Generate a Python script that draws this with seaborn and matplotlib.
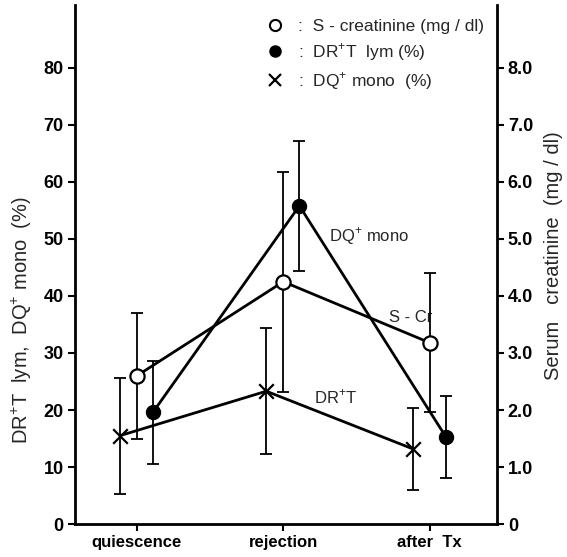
import matplotlib
matplotlib.use("Agg")
import matplotlib.pyplot as plt
import numpy as np
import pandas as pd
import seaborn as sns
from matplotlib.lines import Line2D

phases = ["quiescence", "rejection", "after  Tx"]

# serum creatinine (mg/dl), right axis
scr_mean = [2.6, 4.25, 3.18]
scr_sd = [1.1, 1.93, 1.22]

# filled circles (%), left axis
dr_mean = [19.6, 55.8, 15.3]
dr_sd = [9.0, 11.4, 7.2]

# crosses (%), left axis
dq_mean = [15.5, 23.3, 13.2]
dq_sd = [10.2, 11.0, 7.2]

sns.set_style("ticks")
plt.rcParams["font.family"] = ["Liberation Sans", "DejaVu Sans"]
plt.rcParams["mathtext.fontset"] = "custom"
plt.rcParams["mathtext.rm"] = "Liberation Sans"

pos = np.arange(len(phases))
df = pd.DataFrame({
    "phase": phases,
    "x_scr": pos + 0.0,
    "x_dr": pos + 0.11,
    "x_dq": pos - 0.116,
    "scr": scr_mean,
    "dr": dr_mean,
    "dq": dq_mean,
})

fig = plt.figure(figsize=(5.67, 5.57), dpi=100)
ax = fig.add_axes([0.132, 0.059, 0.744, 0.932])
ax2 = ax.twinx()

line_kw = dict(color="black", linewidth=2.0, sort=False, legend=False)
err_kw = dict(fmt="none", ecolor="black", elinewidth=1.3, capsize=4,
              capthick=1.3, zorder=2)

# crosses
ax.errorbar(df["x_dq"], dq_mean, yerr=dq_sd, **err_kw)
sns.lineplot(data=df, x="x_dq", y="dq", ax=ax, zorder=3, **line_kw)
sns.scatterplot(data=df, x="x_dq", y="dq", ax=ax, marker="x", s=110,
                color="black", linewidth=1.6, zorder=4, legend=False)

# filled circles
ax.errorbar(df["x_dr"], dr_mean, yerr=dr_sd, **err_kw)
sns.lineplot(data=df, x="x_dr", y="dr", ax=ax, zorder=3, **line_kw)
sns.scatterplot(data=df, x="x_dr", y="dr", ax=ax, marker="o", s=105,
                color="black", edgecolor="black", zorder=4, legend=False)

# open circles (right axis)
ax2.errorbar(df["x_scr"], scr_mean, yerr=scr_sd, **err_kw)
sns.lineplot(data=df, x="x_scr", y="scr", ax=ax2, zorder=3, **line_kw)
sns.scatterplot(data=df, x="x_scr", y="scr", ax=ax2, marker="o", s=105,
                color="white", edgecolor="black", linewidth=1.6, zorder=4,
                legend=False)

ax.set_xlim(-0.423, 2.457)
ax.set_ylim(0, 91)
ax2.set_ylim(0, 9.1)

ax.set_xticks(pos)
ax.set_xticklabels(phases, fontsize=12, fontweight="bold")
ax.set_yticks(np.arange(0, 81, 10))
ax.set_yticklabels([str(v) for v in range(0, 81, 10)], fontsize=13, fontweight="bold")
ax2.set_yticks(np.arange(0, 8.1, 1))
ax2.set_yticklabels(["0"] + [f"{v:.1f}" for v in np.arange(1, 8.1, 1)],
                    fontsize=13, fontweight="bold")

ax.set_xlabel("")
ax.set_ylabel(r"DR$^{+}$T  lym,  DQ$^{+}$ mono  (%)", fontsize=14.5)
ax.yaxis.set_label_coords(-0.097, 0.393)
ax2.set_xlabel("")
ax2.set_ylabel("Serum   creatinine  (mg / dl)", fontsize=14.5, rotation=90)
ax2.yaxis.set_label_coords(1.112, 0.518)

for a in (ax, ax2):
    a.spines["top"].set_visible(False)
    for s in ("left", "right", "bottom"):
        a.spines[s].set_linewidth(2.0)
        a.spines[s].set_color("black")
    a.tick_params(direction="out", length=5, width=1.5, colors="black", pad=3)
ax.spines["right"].set_visible(False)
ax2.spines["left"].set_visible(False)
ax2.spines["bottom"].set_visible(False)

ax.text(1.31, 50.4, r"DQ$^{+}$ mono", fontsize=12, ha="left", va="center")
ax.text(1.72, 36.3, "S - Cr", fontsize=12, ha="left", va="center")
ax.text(1.21, 22.3, r"DR$^{+}$T", fontsize=12, ha="left", va="center")

handles = [
    Line2D([], [], marker="o", linestyle="none", markersize=8,
           markerfacecolor="white", markeredgecolor="black", markeredgewidth=1.5),
    Line2D([], [], marker="o", linestyle="none", markersize=8,
           markerfacecolor="black", markeredgecolor="black"),
    Line2D([], [], marker="x", linestyle="none", markersize=9,
           color="black", markeredgewidth=1.6),
]
labels = [
    ":  S - creatinine (mg / dl)",
    r":  DR$^{+}$T  lym (%)",
    r":  DQ$^{+}$ mono  (%)",
]
fig.legend(handles, labels, loc="upper left", bbox_to_anchor=(0.458, 0.978),
           frameon=False, fontsize=12.5, handlelength=1.0, handletextpad=0.8,
           labelspacing=0.40, borderaxespad=0)

fig.savefig("out.png", dpi=100)
